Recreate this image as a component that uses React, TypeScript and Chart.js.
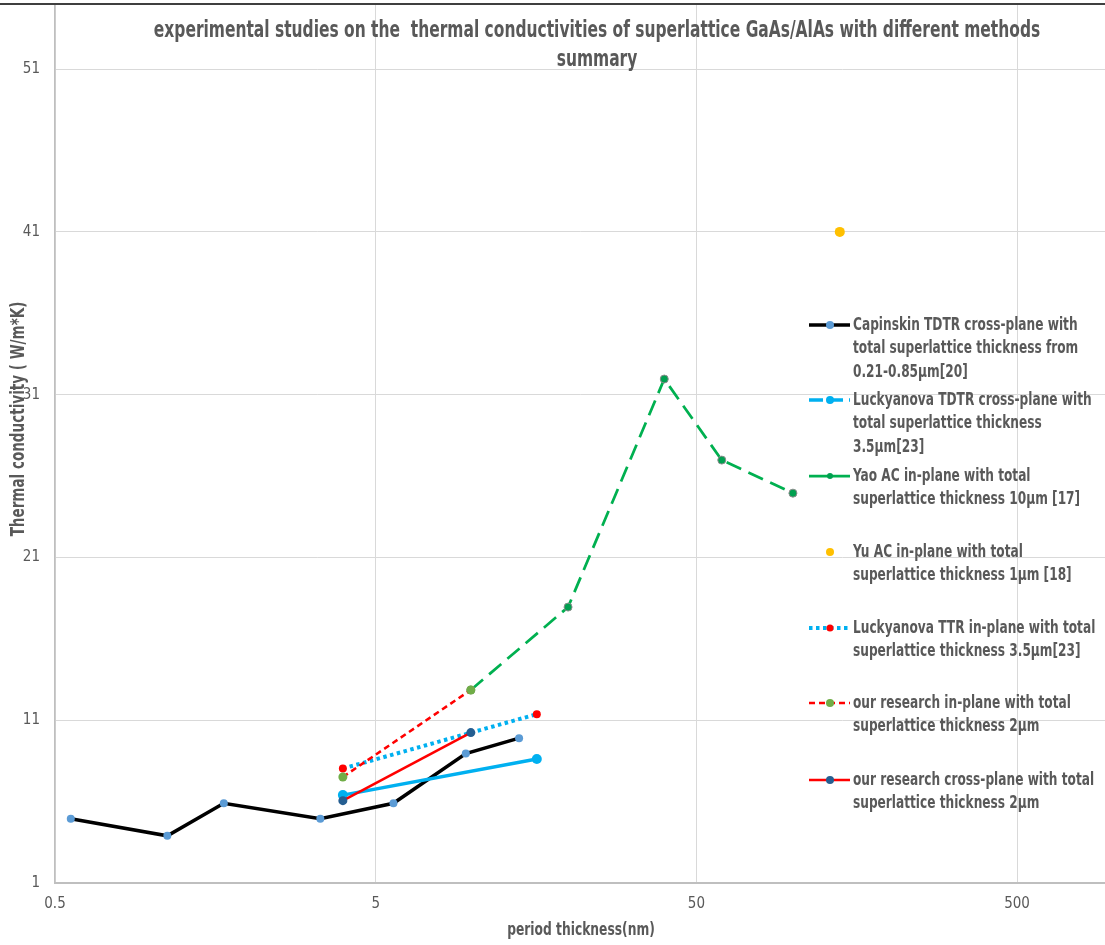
import React, { useEffect, useRef } from "react";
import { Chart, registerables } from "chart.js";

Chart.register(...registerables);

// ---------- text ----------
const chartTitleLines = [
  "experimental studies on the  thermal conductivities of superlattice GaAs/AlAs with different methods",
  "summary",
];
const xAxisTitle = "period thickness(nm)";
const yAxisTitle = "Thermal conductivity ( W/m*K)";

// ---------- ticks ----------
const xTickValues = [0.5, 5, 50, 500];
const yTickValues = [1, 11, 21, 31, 41, 51];

// ---------- data ----------
const capinskiX = [0.56, 1.12, 1.68, 3.36, 5.68, 9.55, 14];
const capinskiY = [4.95, 3.9, 5.9, 4.95, 5.9, 8.95, 9.9];

const luckyTdtrX = [3.95, 15.9];
const luckyTdtrY = [6.4, 8.62];

const yaoX = [9.9, 19.9, 39.7, 60, 100];
const yaoY = [12.86, 17.95, 31.96, 26.98, 24.95];

const yuX = [140];
const yuY = [41];

const luckyTtrX = [3.95, 15.9];
const luckyTtrY = [8.03, 11.37];

const oursInX = [3.95, 9.9];
const oursInY = [7.51, 12.86];

const oursCrossX = [3.95, 9.9];
const oursCrossY = [6.06, 10.24];

const legendTexts = [
  ["Capinskin TDTR cross-plane with", "total superlattice thickness from", "0.21-0.85\u00b5m[20]"],
  ["Luckyanova TDTR cross-plane with", "total superlattice thickness", "3.5\u00b5m[23]"],
  ["Yao AC in-plane with total", "superlattice thickness 10\u00b5m [17]"],
  ["Yu AC in-plane with total", "superlattice thickness 1\u00b5m [18]"],
  ["Luckyanova TTR in-plane with total", "superlattice thickness 3.5\u00b5m[23]"],
  ["our research in-plane with total", "superlattice thickness 2\u00b5m"],
  ["our research cross-plane with total", "superlattice thickness 2\u00b5m"],
];

const pts = (xs: number[], ys: number[]) => xs.map((x, i) => ({ x, y: ys[i] }));

const FONT = '"Liberation Sans Narrow", "Arial Narrow", "DejaVu Sans Condensed", "Roboto", sans-serif';
const TEXT_COLOR = "#595959";

export default function App() {
  const canvasRef = useRef<HTMLCanvasElement | null>(null);

  useEffect(() => {
    const canvas = canvasRef.current;
    if (!canvas) return;

    const legendRows = [325, 400, 476, 552, 628, 703, 780];

    const overlay = {
      id: "overlay",
      afterDraw(chart: any) {
        const ctx: CanvasRenderingContext2D = chart.ctx;
        ctx.save();
        // top frame line
        ctx.fillStyle = "#3f3f3f";
        ctx.fillRect(0, 3, chart.width, 2);

        const drawText = (
          t: string,
          x: number,
          y: number,
          font: string,
          align: CanvasTextAlign,
          sx = 1,
          sy = 1,
          rot = 0
        ) => {
          ctx.save();
          ctx.translate(x, y);
          if (rot) ctx.rotate(rot);
          ctx.scale(sx, sy);
          ctx.font = font;
          ctx.fillStyle = TEXT_COLOR;
          ctx.textAlign = align;
          ctx.textBaseline = "middle";
          ctx.fillText(t, 0, 0);
          ctx.restore();
        };

        // chart title
        drawText(chartTitleLines[0], 597, 31, `bold 20px ${FONT}`, "center", 0.86, 1.15);
        drawText(chartTitleLines[1], 597, 60, `bold 20px ${FONT}`, "center", 0.86, 1.15);
        // axis titles
        drawText(xAxisTitle, 581, 931, `bold 15px ${FONT}`, "center", 0.91, 1.15);
        drawText(yAxisTitle, 19, 419, `bold 16px ${FONT}`, "center", 0.94, 1.2, -Math.PI / 2);

        // legend
        const metas = chart.data.datasets;
        metas.forEach((ds: any, i: number) => {
          const y = legendRows[i];
          if (ds.showLine !== false) {
            ctx.save();
            ctx.strokeStyle = ds.borderColor;
            ctx.lineWidth = ds.legendLineWidth || ds.borderWidth;
            ctx.setLineDash(ds.legendDash || ds.borderDash || []);
            ctx.beginPath();
            ctx.moveTo(809, y);
            ctx.lineTo(850, y);
            ctx.stroke();
            ctx.restore();
          }
          ctx.save();
          ctx.beginPath();
          ctx.arc(830, y, ds.legendRadius || 3.5, 0, Math.PI * 2);
          ctx.fillStyle = ds.pointBackgroundColor;
          ctx.fill();
          ctx.restore();
          legendTexts[i].forEach((line, j) => {
            drawText(line, 853, y + j * 23.5, `bold 16px ${FONT}`, "left", 0.845, 1.15);
          });
        });
        ctx.restore();
      },
    };

    const chart = new Chart(canvas, {
      type: "scatter",
      data: {
        datasets: [
          {
            label: "Capinskin",
            data: pts(capinskiX, capinskiY),
            showLine: true,
            borderColor: "#000000",
            borderWidth: 3.5,
            pointRadius: 4,
            pointBackgroundColor: "#5B9BD5",
            pointBorderColor: "#5B9BD5",
            pointBorderWidth: 0,
            order: 7,
            legendRadius: 4,
          } as any,
          {
            label: "Luckyanova TDTR",
            data: pts(luckyTdtrX, luckyTdtrY),
            showLine: true,
            borderColor: "#00B0F0",
            borderWidth: 3.5,
            pointRadius: 5,
            pointBackgroundColor: "#00B0F0",
            pointBorderColor: "#00B0F0",
            pointBorderWidth: 0,
            order: 6,
            legendDash: [14, 6],
            legendRadius: 4,
          } as any,
          {
            label: "Yao",
            data: pts(yaoX, yaoY),
            showLine: true,
            borderColor: "#00B050",
            borderWidth: 2.75,
            borderDash: [16, 8],
            legendDash: [],
            pointRadius: 4,
            pointBackgroundColor: "#00A050",
            pointBorderColor: "#8c8c8c",
            pointBorderWidth: 1,
            order: 5,
            legendRadius: 3,
          } as any,
          {
            label: "Yu",
            data: pts(yuX, yuY),
            showLine: false,
            pointRadius: 5,
            pointBackgroundColor: "#FFC000",
            pointBorderColor: "#FFC000",
            pointBorderWidth: 0,
            order: 4,
            legendRadius: 4,
          } as any,
          {
            label: "Luckyanova TTR",
            data: pts(luckyTtrX, luckyTtrY),
            showLine: true,
            borderColor: "#00B0F0",
            borderWidth: 4,
            borderDash: [3.5, 3.5],
            pointRadius: 4,
            pointBackgroundColor: "#FF0000",
            pointBorderColor: "#FF0000",
            pointBorderWidth: 0,
            order: 3,
            legendRadius: 3.5,
          } as any,
          {
            label: "our research in-plane",
            data: pts(oursInX, oursInY),
            showLine: true,
            borderColor: "#FF0000",
            borderWidth: 2.5,
            borderDash: [6, 4],
            pointRadius: 4.5,
            pointBackgroundColor: "#70AD47",
            pointBorderColor: "#70AD47",
            pointBorderWidth: 0,
            order: 2,
            legendRadius: 4,
          } as any,
          {
            label: "our research cross-plane",
            data: pts(oursCrossX, oursCrossY),
            showLine: true,
            borderColor: "#FF0000",
            borderWidth: 2.5,
            pointRadius: 4.5,
            pointBackgroundColor: "#255E91",
            pointBorderColor: "#255E91",
            pointBorderWidth: 0,
            order: 1,
            legendRadius: 4,
          } as any,
        ],
      },
      options: {
        responsive: false,
        animation: false,
        layout: { autoPadding: false, padding: { top: 4, right: 0, bottom: 0, left: 0 } },
        plugins: {
          legend: { display: false },
          title: { display: false },
          tooltip: { enabled: false },
        },
        scales: {
          x: {
            type: "logarithmic",
            min: 0.5,
            max: 940,
            afterBuildTicks: (s: any) => {
              s.ticks = xTickValues.map((v) => ({ value: v }));
            },
            afterFit: (s: any) => {
              s.height = 62;
              s.paddingLeft = 0;
              s.paddingRight = 0;
              s.paddingTop = 0;
              s.paddingBottom = 0;
            },
            ticks: {
              autoSkip: false,
              maxRotation: 0,
              padding: 12,
              color: TEXT_COLOR,
              font: { family: FONT, size: 15 },
              callback: (v: any) => String(v),
            },
            grid: { color: "#d9d9d9", lineWidth: 1, drawTicks: false },
            border: { color: "#bfbfbf", width: 2 },
          },
          y: {
            type: "linear",
            min: 1,
            max: 55,
            afterBuildTicks: (s: any) => {
              s.ticks = yTickValues.map((v) => ({ value: v }));
            },
            afterFit: (s: any) => {
              s.width = 55;
              s.paddingLeft = 0;
              s.paddingRight = 0;
              s.paddingTop = 0;
              s.paddingBottom = 0;
            },
            ticks: {
              padding: 15,
              color: TEXT_COLOR,
              font: { family: FONT, size: 15 },
              callback: (v: any) => String(v),
            },
            grid: { color: "#d9d9d9", lineWidth: 1, drawTicks: false },
            border: { color: "#bfbfbf", width: 1.5 },
          },
        },
      } as any,
      plugins: [overlay],
    });

    return () => chart.destroy();
  }, []);

  return (
    <div style={{ position: "fixed", left: 0, top: 0, width: 1105, height: 945, background: "#ffffff" }}>
      <canvas ref={canvasRef} width={1105} height={945} style={{ display: "block" }} />
    </div>
  );
}
